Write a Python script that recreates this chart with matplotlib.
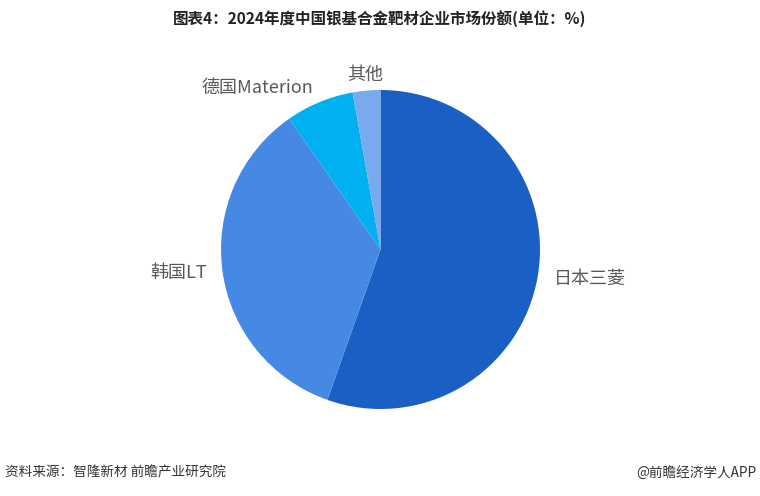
import matplotlib
matplotlib.use("Agg")
import matplotlib.pyplot as plt

plt.rcParams["font.family"] = ["Noto Sans CJK SC", "DejaVu Sans"]

# 2024年度中国银基合金靶材企业市场份额 (%)
companies = ["日本三菱", "韩国LT", "德国Materion", "其他"]
shares = [55.4, 34.9, 6.9, 2.8]
colors = ["#1a60c4", "#4589e5", "#00b0f0", "#79aaee"]

title = "图表4：2024年度中国银基合金靶材企业市场份额(单位：%)"
source = "资料来源：智隆新材 前瞻产业研究院"
brand = "@前瞻经济学人APP"

W, H = 760, 496
fig = plt.figure(figsize=(W / 100, H / 100), dpi=100)

# square pie axes, centre ~(380, 250) px, radius ~160 px
cx, cy, r = 380.5, 249.5, 159.5
ax = fig.add_axes([(cx - r) / W, (H - cy - r) / H, 2 * r / W, 2 * r / H])

wedges, texts = ax.pie(
    shares,
    labels=companies,
    colors=colors,
    startangle=90,
    counterclock=False,
    labeldistance=1.1,
    wedgeprops=dict(linewidth=0),
    textprops=dict(fontsize=13, color="#595959"),
)
# small slice label sits centred above its wedge
texts[3].set_horizontalalignment("center")
ax.set_xlim(-1, 1)
ax.set_ylim(-1, 1)
ax.set_aspect("equal")

fig.text(0.5, 1 - 20 / H, title, ha="center", va="center",
         fontsize=11.2, fontweight="bold", color="#222222")
fig.text(5 / W, 1 - 473 / H, source, ha="left", va="center",
         fontsize=9.8, color="#333333")
fig.text(1 - 4 / W, 1 - 473 / H, brand, ha="right", va="center",
         fontsize=9.8, color="#333333")

fig.savefig("out.png", dpi=100)
